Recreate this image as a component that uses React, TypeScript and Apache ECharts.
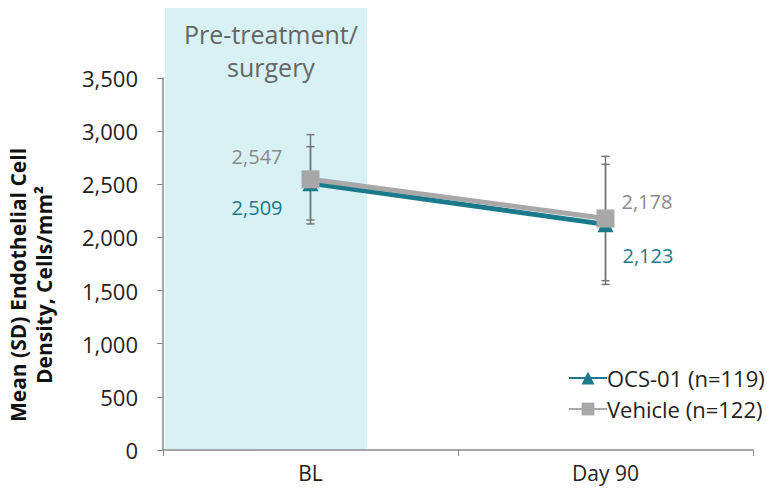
import React, { useEffect, useRef } from "react";
import * as echarts from "echarts";

const categories = ["BL", "Day 90"];
const ocsMean = [2509, 2123];
const ocsSD = [345, 565];
const vehicleMean = [2547, 2178];
const vehicleSD = [420, 585];
const yTicks = { min: 0, max: 3500, interval: 500 };
const ocsName = "OCS-01 (n=119)";
const vehName = "Vehicle (n=122)";
const yTitle = "Mean (SD) Endothelial Cell\nDensity, Cells/mm²";
const bandTitle = "Pre-treatment/\nsurgery";

const TEAL = "#1a7a8c";
const GRAY = "#a8a8a8";
const FONT = "'Open Sans', 'Noto Sans', sans-serif";

const fmt = (v: number) => v.toLocaleString("en-US");

export default function App() {
  const ref = useRef<HTMLDivElement>(null);
  useEffect(() => {
    if (!ref.current) return;
    const chart = echarts.init(ref.current, undefined, { renderer: "svg" });
    const errData: any[] = [];
    categories.forEach((_, i) => {
      errData.push([i, vehicleMean[i] - vehicleSD[i], vehicleMean[i] + vehicleSD[i]]);
      errData.push([i, ocsMean[i] - ocsSD[i], ocsMean[i] + ocsSD[i]]);
    });
    const labelStyle = (color: string) => ({
      show: true,
      color,
      fontSize: 20,
      fontFamily: FONT,
      formatter: (p: any) => fmt(p.value),
    });
    chart.setOption({
      animation: false,
      grid: { left: 163, right: 14, top: 78, bottom: 50, outerBoundsMode: "none", containLabel: false },
      graphic: [
        {
          type: "rect",
          z: -10,
          shape: { x: 165, y: 8, width: 202, height: 441 },
          style: { fill: "#d7f1f5" },
          silent: true,
        },
        {
          type: "text",
          z: 10,
          style: {
            x: 271,
            y: 50,
            text: bandTitle,
            fill: "#666",
            fontSize: 25,
            fontFamily: FONT,
            align: "center",
            verticalAlign: "middle",
            lineHeight: 33,
          },
        },
        {
          type: "text",
          z: 10,
          x: 31,
          y: 285,
          rotation: Math.PI / 2,
          style: {
            x: 0,
            y: 0,
            text: yTitle,
            fill: "#111",
            fontSize: 21,
            fontWeight: "bold",
            fontFamily: FONT,
            align: "center",
            verticalAlign: "middle",
            lineHeight: 26,
          },
        },
      ],
      legend: {
        orient: "vertical",
        left: 563,
        top: 362,
        itemGap: 9,
        itemWidth: 38,
        itemHeight: 16,
        data: [ocsName, vehName],
        textStyle: { fontSize: 22, color: "#222", fontFamily: FONT, padding: [0, 0, 0, -5] },
      },
      xAxis: {
        type: "category",
        data: categories,
        axisLine: { lineStyle: { color: "#888", width: 1.5 } },
        axisTick: { show: true, length: 6, lineStyle: { color: "#888" } },
        axisLabel: { fontSize: 21, color: "#222", fontFamily: FONT, margin: 12 },
      },
      yAxis: {
        type: "value",
        min: yTicks.min,
        max: yTicks.max,
        interval: yTicks.interval,
        splitLine: { show: false },
        axisLine: { show: true, lineStyle: { color: "#888", width: 1.5 } },
        axisTick: { show: true, length: 6, lineStyle: { color: "#888" } },
        axisLabel: { fontSize: 22, color: "#222", fontFamily: FONT, margin: 25, formatter: (v: number) => fmt(v) },
      },
      series: [
        {
          type: "custom",
          z: 1,
          silent: true,
          data: errData,
          renderItem: (params: any, api: any) => {
            const x = api.coord([api.value(0), 0])[0];
            const lo = api.coord([api.value(0), api.value(1)])[1];
            const hi = api.coord([api.value(0), api.value(2)])[1];
            const s = { stroke: "#777", lineWidth: 1.5 };
            return {
              type: "group",
              children: [
                { type: "line", shape: { x1: x, y1: lo, x2: x, y2: hi }, style: s },
                { type: "line", shape: { x1: x - 4, y1: lo, x2: x + 4, y2: lo }, style: s },
                { type: "line", shape: { x1: x - 4, y1: hi, x2: x + 4, y2: hi }, style: s },
              ],
            };
          },
        },
        {
          name: ocsName,
          type: "line",
          z: 3,
          data: ocsMean.map((v, i) => ({
            value: v,
            label:
              i === 0
                ? { ...labelStyle(TEAL), position: "left", offset: [-15, 24] }
                : { ...labelStyle(TEAL), position: "right", offset: [4, 31] },
          })),
          symbol: "triangle",
          symbolSize: 16,
          color: TEAL,
          lineStyle: { color: TEAL, width: 5 },
          itemStyle: { color: TEAL },
        },
        {
          name: vehName,
          type: "line",
          z: 4,
          data: vehicleMean.map((v, i) => ({
            value: v,
            label:
              i === 0
                ? { ...labelStyle("#8a8a8a"), position: "left", offset: [-14, -23] }
                : { ...labelStyle("#8a8a8a"), position: "right", offset: [2, -17] },
          })),
          symbol: "rect",
          symbolSize: 18,
          color: GRAY,
          lineStyle: { color: GRAY, width: 5 },
          itemStyle: { color: GRAY },
        },
      ],
    });
    return () => chart.dispose();
  }, []);
  return <div ref={ref} style={{ width: 767, height: 500, position: "absolute", left: 0, top: 0 }} />;
}
